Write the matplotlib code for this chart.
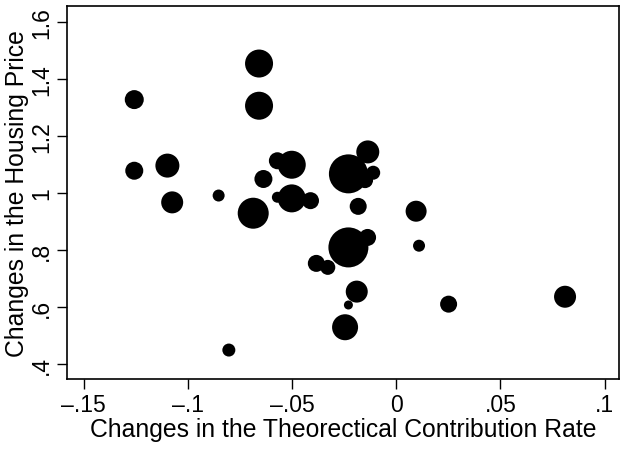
import numpy as np
import matplotlib
matplotlib.use("Agg")
import matplotlib.pyplot as plt

plt.rcParams['font.family'] = ['Liberation Sans', 'DejaVu Sans']

# data: x change, y change, marker diameter (px)
rate_change = [-0.1258, -0.0659, -0.0659, -0.1258, -0.1099, -0.1076, -0.0853, -0.0687,
               -0.0638, -0.0571, -0.0502, -0.0502, -0.0571, -0.0412, -0.0230, -0.0137,
               -0.0111, -0.0150, -0.0183, 0.0095, -0.0230, -0.0138, -0.0170, 0.0109,
               -0.0384, -0.0329, -0.0190, -0.0230, -0.0246, -0.0804, 0.0251, 0.0810]
price_change = [1.3275, 1.454, 1.306, 1.078, 1.096, 0.967, 0.991, 0.929,
                1.049, 1.113, 1.099, 0.981, 0.985, 0.973, 1.067, 1.144,
                1.071, 1.045, 0.953, 0.936, 0.809, 0.844, 0.835, 0.815,
                0.753, 0.739, 0.654, 0.607, 0.529, 0.449, 0.610, 0.636]
weight = [19, 28, 28, 18, 24, 22, 12, 31,
          18, 17, 28, 28, 11, 17, 39, 23,
          14, 16, 17, 21, 40, 17, 16, 12,
          17, 15, 22, 9, 26, 13, 17, 22]

x_ticks = [-0.15, -0.1, -0.05, 0, 0.05, 0.1]
x_labels = ['\u2013.15', '\u2013.1', '\u2013.05', '0', '.05', '.1']
y_ticks = [0.4, 0.6, 0.8, 1.0, 1.2, 1.4, 1.6]
y_labels = ['.4', '.6', '.8', '1', '1.2', '1.4', '1.6']

dpi = 100
fig = plt.figure(figsize=(6.28, 4.52), dpi=dpi)
ax = fig.add_axes([0.107, 0.159, 0.879, 0.825])

sizes = (np.array(weight) * 72.0 / dpi) ** 2
ax.scatter(rate_change, price_change, s=sizes, c='black', edgecolors='none')

ax.set_xlim(-0.158, 0.107)
ax.set_ylim(0.347, 1.655)
ax.set_xticks(x_ticks)
ax.set_xticklabels(x_labels)
ax.set_yticks(y_ticks)
ax.set_yticklabels(y_labels, rotation=90, va='center')

ax.tick_params(axis='both', labelsize=16.5, length=7, width=1, color='black', pad=3)
for sp in ax.spines.values():
    sp.set_linewidth(1.2)

ax.set_xlabel('Changes in the Theorectical Contribution Rate', fontsize=17.8, labelpad=1)
ax.set_ylabel('Changes in the Housing Price', fontsize=17.8, labelpad=1)

fig.savefig('out.png', dpi=dpi)
